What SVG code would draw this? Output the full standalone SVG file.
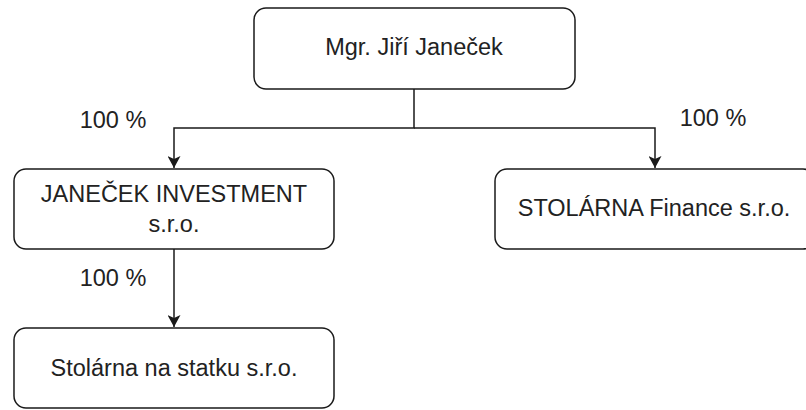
<svg xmlns="http://www.w3.org/2000/svg" width="806" height="410" viewBox="0 0 806 410">
<style>
.node{fill:#ffffff;stroke:#1a1a1a;stroke-width:1.5}
.t{font-family:"Liberation Sans",Arial,sans-serif;font-size:23.5px;fill:#222;text-anchor:middle}
.edge{fill:none;stroke:#1a1a1a;stroke-width:1.5}
</style>
<defs>
<marker id="arr" markerWidth="13" markerHeight="13" refX="12" refY="6.5" orient="auto" markerUnits="userSpaceOnUse">
<path d="M0,0 L12,6.5 L0,13 L3,6.5 Z" fill="#1a1a1a"/>
</marker>
</defs>
<rect width="806" height="410" fill="#ffffff"/>
<g id="connectors">
<path class="edge" d="M414,89 V128 H174 V168" marker-end="url(#arr)"/>
<path class="edge" d="M414,128 H655 V168" marker-end="url(#arr)"/>
<path class="edge" d="M174,249 V327" marker-end="url(#arr)"/>
<text class="t" x="113" y="128">100 %</text>
<text class="t" x="713" y="126">100 %</text>
<text class="t" x="113" y="286">100 %</text>
</g>
<g id="n1">
<rect class="node" x="254" y="8" width="321" height="81" rx="12"/>
<text class="t" x="414" y="55">Mgr. Jiří Janeček</text>
</g>
<g id="n2">
<rect class="node" x="14" y="169" width="320" height="80" rx="12"/>
<text class="t" x="174" y="202">JANEČEK INVESTMENT</text>
<text class="t" x="174" y="232">s.r.o.</text>
</g>
<g id="n3">
<rect class="node" x="495" y="169" width="320" height="80" rx="12"/>
<text class="t" x="654" y="216">STOLÁRNA Finance s.r.o.</text>
</g>
<g id="n4">
<rect class="node" x="14" y="328" width="320" height="80" rx="12"/>
<text class="t" x="174" y="376">Stolárna na statku s.r.o.</text>
</g>
</svg>
